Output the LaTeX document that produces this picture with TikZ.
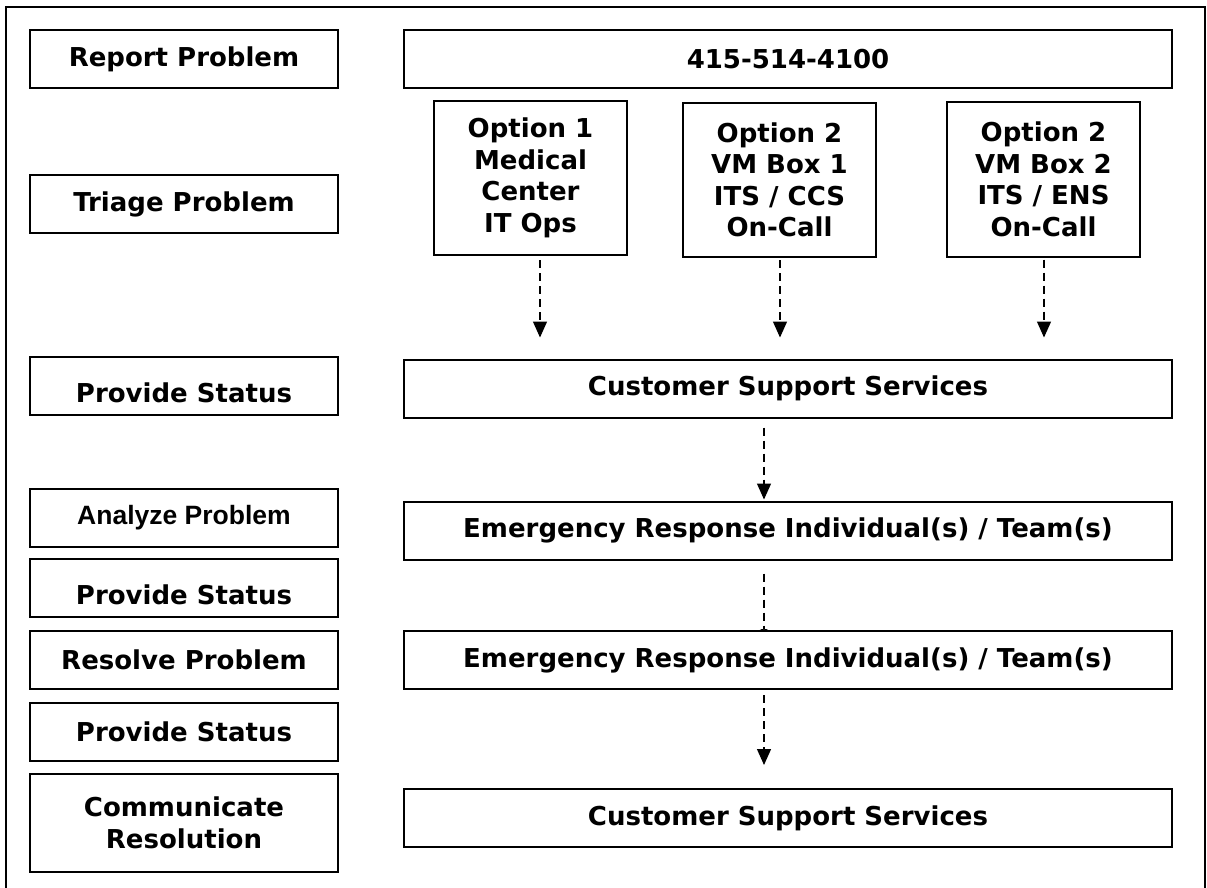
\documentclass[tikz,border=0pt]{standalone}
\usepackage{fontspec}
\setmainfont{DejaVu Sans}
\newfontfamily\narrowfont{Liberation Sans}
\usetikzlibrary{positioning, arrows.meta}

\begin{document}
\begin{tikzpicture}
    [x=1pt, y=-1pt,
     every node/.style={draw, line width=2pt, align=center, outer sep=0pt,
        font=\fontsize{26pt}{31.5pt}\selectfont\bfseries},
     stepbox/.style={minimum width=308pt, minimum height=58pt},
     lowtext/.style={text height=33pt, text depth=0pt},
     wide/.style={minimum width=768pt, minimum height=58pt},
     option/.style={minimum width=193pt, minimum height=154pt},
     arr/.style={draw=black, line width=1.3pt, dash pattern=on 8pt off 5pt,
        -{Triangle[length=16pt, width=14pt]}},
    ]
    \useasboundingbox (0,0) rectangle (1207,888);
    \draw [line width=2pt] (6,888) -- (6,7) -- (1205,7) -- (1205,888);

    % steps on the left
    \node (report) [stepbox] at (184,59.5) {Report Problem};
    \node (triage) [stepbox] at (184,204) {Triage Problem};
    \node (statusA) [stepbox, lowtext] at (184,386) {Provide Status};
    \node (analyze) [stepbox, font=\narrowfont\fontsize{26.5pt}{30pt}\selectfont\bfseries]
        at (184,518) {Analyze Problem};
    \node (statusB) [stepbox, lowtext, below=12pt of analyze] {Provide Status};
    \node (resolve) [stepbox, below=14pt of statusB] {Resolve Problem};
    \node (statusC) [stepbox, below=14pt of resolve] {Provide Status};
    \node (communicate) [stepbox, minimum height=98pt, below=13pt of statusC] {
        Communicate\\
        Resolution
    };

    % who does it
    \node (phone) [wide, right=66pt of report] {415-514-4100};
    \node (optA) [option] at (530.5,178) {
        Option 1\\
        Medical\\
        Center\\
        IT Ops
    };
    \node (optB) [option] at (779.5,180) {
        Option 2\\
        VM Box 1\\
        ITS / CCS\\
        On-Call
    };
    \node (optC) [option] at (1043.5,179.5) {
        Option 2\\
        VM Box 2\\
        ITS / ENS\\
        On-Call
    };
    \node (cssA) [wide] at (788,388.5) {Customer Support Services};
    \node (ertA) [wide] at (788,530.5) {Emergency Response Individual(s) / Team(s)};
    \node (ertB) [wide, right=66pt of resolve] {Emergency Response Individual(s) / Team(s)};
    \node (cssB) [wide] at (788,818) {Customer Support Services};

    \draw [arr, shorten <=5pt, shorten >=22pt] ([xshift=9.5pt]optA.south) -- ([xshift=9.5pt]optA.south |- cssA.north);
    \draw [arr, shorten <=3pt, shorten >=22pt] ([xshift=0.5pt]optB.south) -- ([xshift=0.5pt]optB.south |- cssA.north);
    \draw [arr, shorten <=3pt, shorten >=22pt] ([xshift=0.5pt]optC.south) -- ([xshift=0.5pt]optC.south |- cssA.north);

    \draw [arr, shorten <=10pt, shorten >=2pt] ([xshift=-24pt]cssA.south) -- ([xshift=-24pt]ertA.north);
    \draw [arr, -{Triangle[length=2pt, width=8pt]}, shorten <=14pt] ([xshift=-24pt]ertA.south) -- ([xshift=-24pt]ertB.north);
    \draw [arr, shorten <=6pt, shorten >=24pt] ([xshift=-24pt]ertB.south) -- ([xshift=-24pt]cssB.north);

\end{tikzpicture}
\end{document}
